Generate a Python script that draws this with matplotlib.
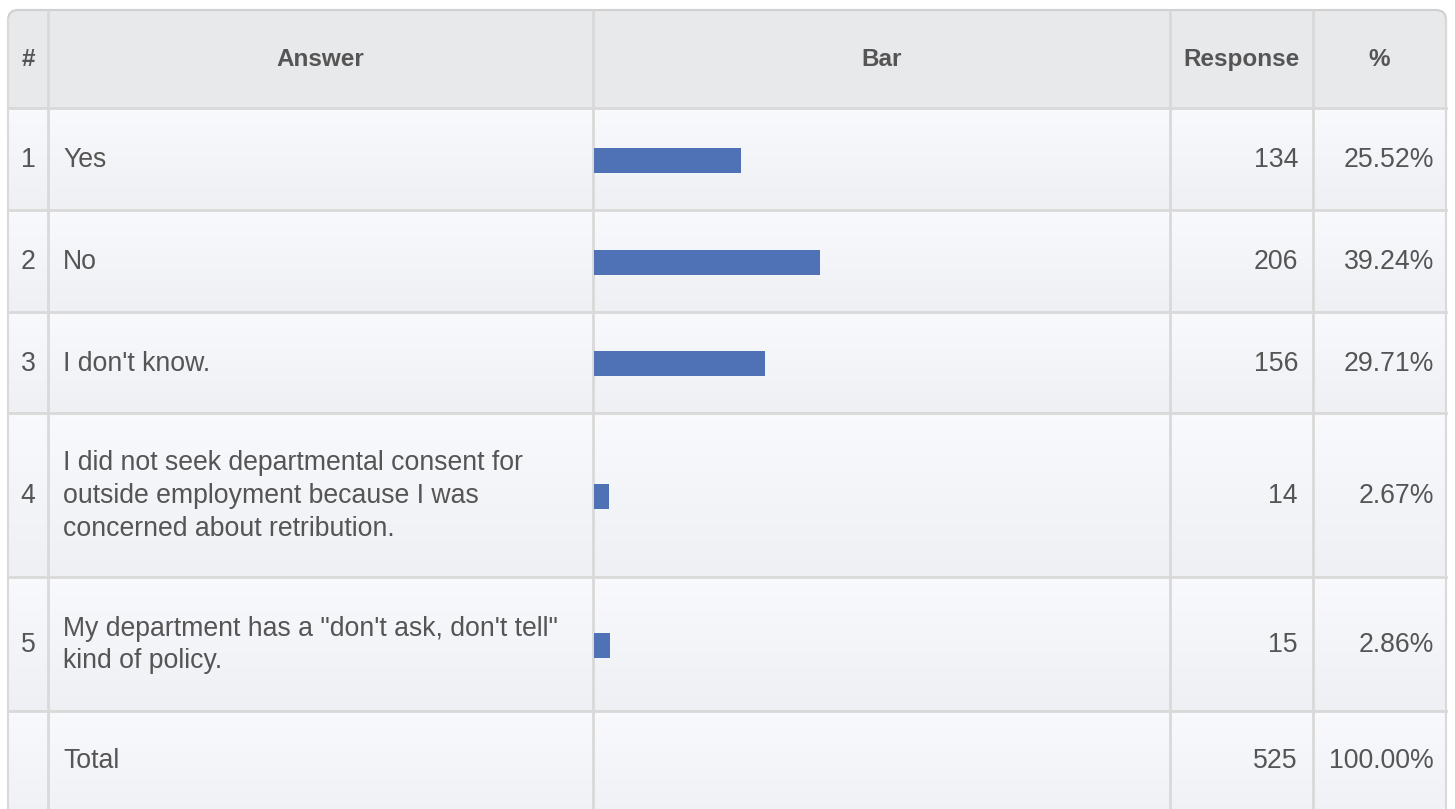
import numpy as np
import matplotlib.pyplot as plt
from matplotlib.patches import FancyBboxPatch

plt.rcParams['font.family'] = ['Liberation Sans', 'DejaVu Sans']

# data
row_ids = ["1", "2", "3", "4", "5"]
answers = [
    "Yes",
    "No",
    "I don't know.",
    "I did not seek departmental consent for\noutside employment because I was\nconcerned about retribution.",
    "My department has a \"don't ask, don't tell\"\nkind of policy.",
]
responses = [134, 206, 156, 14, 15]
percents = [25.52, 39.24, 29.71, 2.67, 2.86]
total_label = "Total"
total_response = 525
total_percent = 100.00
headers = ["#", "Answer", "Bar", "Response", "%"]

# layout in pixels
W, H = 1455, 809
col_edges = [8, 48, 593, 1170, 1313, 1446]
row_edges = [10, 108, 210, 312, 413, 577, 711, 830]
text_color = "#555555"
border = "#d9d9d9"
header_bg = "#e8e9eb"
bar_color = "#4f71b6"
fs = 19.2

fig = plt.figure(figsize=(W / 100, H / 100), dpi=100)
ax = fig.add_axes([0, 0, 1, 1])
ax.set_xlim(0, W)
ax.set_ylim(H, 0)
ax.axis("off")

# header with rounded top corners
hdr = FancyBboxPatch((col_edges[0], row_edges[0]), col_edges[-1] - col_edges[0], 140,
                     boxstyle="round,pad=0,rounding_size=10", fc=header_bg, ec="#d0d0d0", lw=1.5, zorder=1)
ax.add_patch(hdr)

# body rows with soft vertical gradient
grad = np.linspace(0, 1, 64).reshape(-1, 1)
top_c = np.array([0.975, 0.978, 0.99])
bot_c = np.array([0.937, 0.941, 0.955])
img = (top_c + (bot_c - top_c) * grad[..., None]).reshape(64, 1, 3)
for r in range(1, len(row_edges) - 1):
    ax.imshow(img, extent=(col_edges[0], col_edges[-1], row_edges[r + 1], row_edges[r]),
              aspect="auto", zorder=2, interpolation="bilinear")
ax.set_xlim(0, W)
ax.set_ylim(H, 0)

# grid lines
for x in col_edges:
    outer = x in (col_edges[0], col_edges[-1])
    ax.plot([x, x], [row_edges[0] + 8 if outer else row_edges[0], H + 5],
            color=border, lw=1.5 if outer else 2, zorder=3, solid_capstyle="butt")
for y in row_edges[1:-1]:
    ax.plot([col_edges[0], col_edges[-1]], [y, y], color=border, lw=2, zorder=3)

# header text
col_centers = [(col_edges[i] + col_edges[i + 1]) / 2 for i in range(5)]
hy = (row_edges[0] + row_edges[1]) / 2
for c, h in zip(col_centers, headers):
    ax.text(c, hy, h, ha="center", va="center", fontsize=17.5, fontweight="bold", color=text_color, zorder=4)

# body text
rows_id = row_ids + [""]
rows_ans = answers + [total_label]
rows_resp = [str(v) for v in responses] + [str(total_response)]
rows_pct = [f"{v:.2f}%" for v in percents] + [f"{total_percent:.2f}%"]
centers = []
for i in range(len(rows_ans)):
    cy = (row_edges[i + 1] + min(row_edges[i + 2], H)) / 2 + 1
    centers.append(cy)
    ax.text(col_centers[0], cy, rows_id[i], ha="center", va="center", fontsize=fs, color=text_color, zorder=4)
    ax.text(63, cy, rows_ans[i], ha="left", va="center", fontsize=fs, color=text_color,
            linespacing=1.33, zorder=4)
    ax.text(1298, cy, rows_resp[i], ha="right", va="center", fontsize=fs, color=text_color, zorder=4)
    ax.text(1434, cy, rows_pct[i], ha="right", va="center", fontsize=fs, color=text_color, zorder=4)

# bars in their own axes over the Bar column
bx0, bx1 = col_edges[2] + 1, col_edges[3]
bax = fig.add_axes([bx0 / W, 0, (bx1 - bx0) / W, 1])
bax.set_xlim(0, 100)
bax.set_ylim(H, 0)
bax.axis("off")
bax.patch.set_alpha(0)
bax.barh(centers[:len(percents)], percents, height=25, left=0, color=bar_color, zorder=5)

fig.savefig("out.png", dpi=100)
